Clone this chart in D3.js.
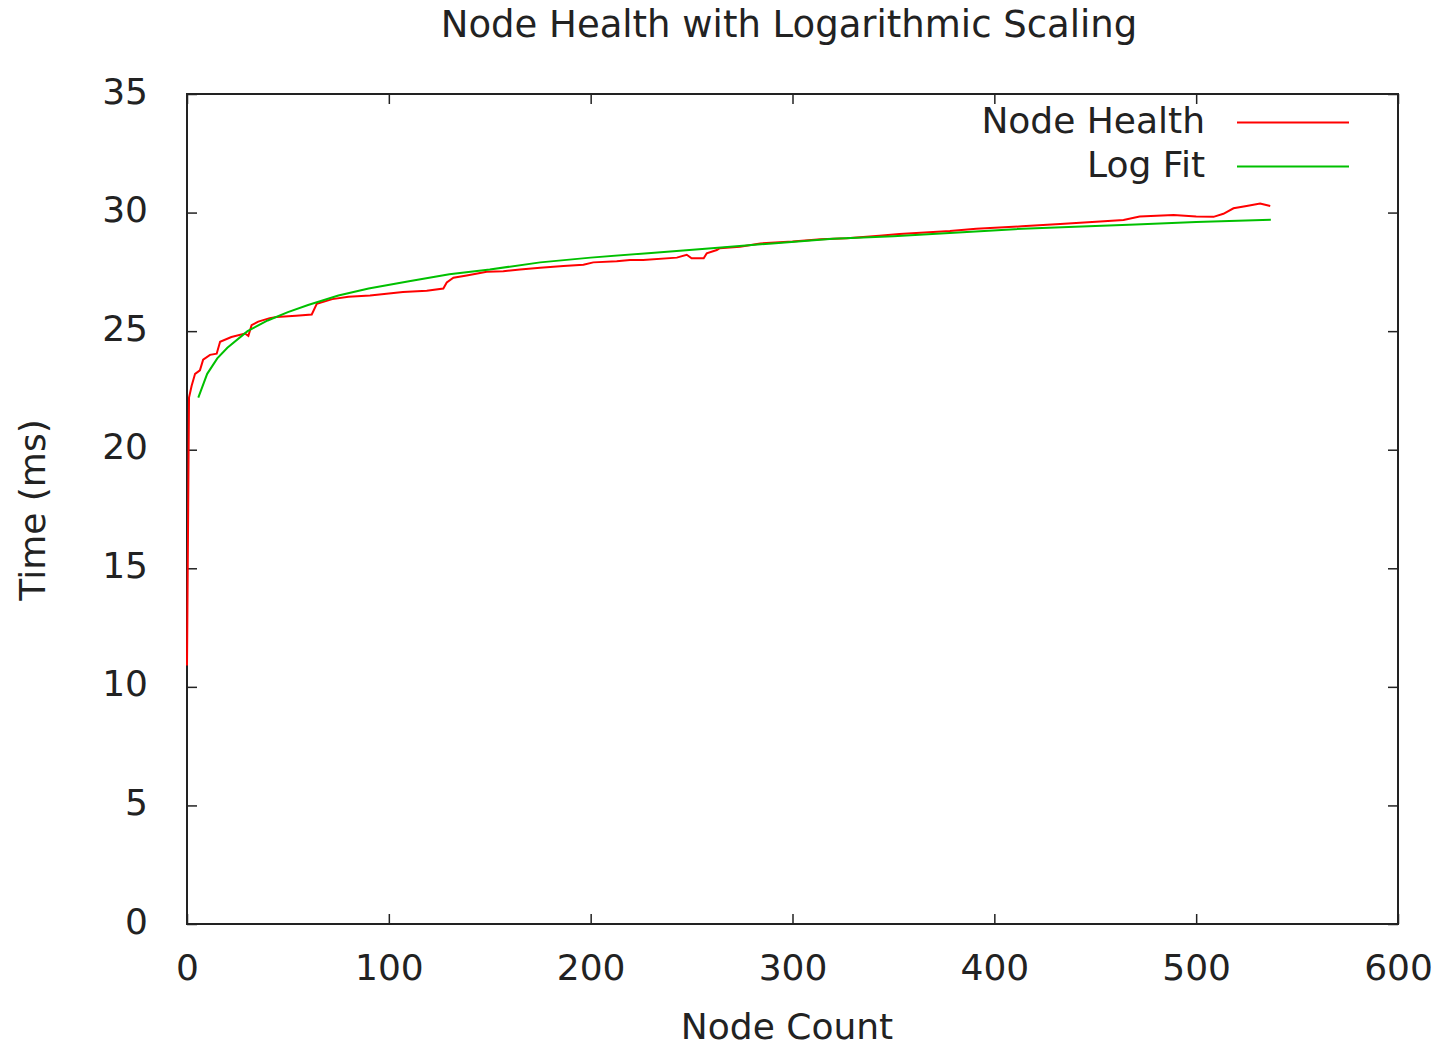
<!DOCTYPE html>
<html>
<head>
<meta charset="utf-8">
<script src="https://cdn.jsdelivr.net/npm/d3@7"></script>
<style>
  body { margin: 0; background: #fff; }
  text { font-family: "DejaVu Sans", sans-serif; fill: #222; }
</style>
</head>
<body>
<div id="chart"></div>
<script>
// node count vs time (ms)
var healthX = [0, 1, 2.3, 4, 6.4, 8, 11.4, 14.7, 16.4, 22, 28.7, 30.4, 32, 35.3, 41, 44.4, 54, 61.8, 64.3, 72, 80,
  90.7, 107, 118.8, 127, 128.7, 132, 138.6, 148.5, 156.7, 165, 175, 186.5, 196.4, 201.3, 212.9, 219.5, 226,
  242.7, 247.6, 250, 256, 257.5, 262.5, 264, 274, 284, 300, 314, 327, 343, 353, 378, 391, 413.6, 432.6,
  442.5, 452.4, 464, 472, 488.8, 500, 508.6, 513.5, 518.5, 525, 531.7, 536.7];
var healthY = [10.9, 22.2, 22.7, 23.2, 23.35, 23.8, 24.0, 24.05, 24.55, 24.75, 24.9, 24.8, 25.25, 25.4, 25.55, 25.6, 25.65, 25.7, 26.15, 26.35, 26.45,
  26.5, 26.65, 26.7, 26.8, 27.05, 27.25, 27.35, 27.5, 27.53, 27.6, 27.67, 27.75, 27.8, 27.9, 27.95, 28.0, 28.0,
  28.1, 28.22, 28.07, 28.07, 28.28, 28.42, 28.5, 28.56, 28.7, 28.78, 28.88, 28.92, 29.02, 29.1, 29.22, 29.32, 29.42, 29.52,
  29.57, 29.62, 29.69, 29.83, 29.9, 29.83, 29.82, 29.95, 30.18, 30.28, 30.38, 30.28];

var fitX = [5.6, 10, 15, 20, 30, 40, 50, 60, 75, 90, 110, 130, 150, 175, 200, 230, 260, 290, 320, 350, 380, 410, 440, 470, 500, 537];
var fitY = [22.2, 23.2, 23.85, 24.3, 25.0, 25.45, 25.8, 26.1, 26.5, 26.8, 27.1, 27.4, 27.6, 27.9, 28.1, 28.3, 28.5, 28.7, 28.9, 29.0, 29.15, 29.3, 29.4, 29.5, 29.6, 29.7];

var seriesNames = ["Node Health", "Log Fit"];
var colors = ["#ff0000", "#00c000"];
var xTicks = [0, 100, 200, 300, 400, 500, 600];
var yTicks = [0, 5, 10, 15, 20, 25, 30, 35];

var W = 1435, H = 1048;
var margin = {top: 94, right: 37, bottom: 124, left: 187},
    width = W - margin.left - margin.right,
    height = H - margin.top - margin.bottom;

var svg = d3.select("#chart").append("svg")
    .attr("width", W)
    .attr("height", H);

var g = svg.append("g")
    .attr("transform", "translate(" + margin.left + "," + margin.top + ")");

var x = d3.scaleLinear().domain([0, 600]).range([0, width]);
var y = d3.scaleLinear().domain([0, 35]).range([height, 0]);

// axes, ticks pointing inward like gnuplot
var xAxis = g.append("g")
    .attr("transform", "translate(0," + height + ")")
    .call(d3.axisBottom(x).tickValues(xTicks).tickSize(-10).tickPadding(30));
var yAxis = g.append("g")
    .call(d3.axisLeft(y).tickValues(yTicks).tickSize(-10).tickPadding(39));
var xTop = g.append("g")
    .call(d3.axisTop(x).tickValues(xTicks).tickSize(-10).tickFormat(""));
var yRight = g.append("g")
    .attr("transform", "translate(" + width + ",0)")
    .call(d3.axisRight(y).tickValues(yTicks).tickSize(-10).tickFormat(""));

[xAxis, yAxis, xTop, yRight].forEach(function(a) {
  a.select(".domain").remove();
  a.selectAll(".tick line").attr("stroke", "#222").attr("stroke-width", 1.5);
  a.selectAll(".tick text").style("font-size", "36px").attr("fill", "#222")
    .style("font-family", "'DejaVu Sans', sans-serif");
});
yAxis.selectAll(".tick text").attr("dy", "0.25em");

// frame
g.append("rect")
    .attr("x", 0).attr("y", 0)
    .attr("width", width).attr("height", height)
    .attr("fill", "none")
    .attr("stroke", "#222")
    .attr("stroke-width", 2);

var line = d3.line()
    .x(function(d) { return x(d[0]); })
    .y(function(d) { return y(d[1]); });

var fitData = fitX.map(function(v, i) { return [v, fitY[i]]; });
var healthData = healthX.map(function(v, i) { return [v, healthY[i]]; });

g.append("path")
    .datum(healthData)
    .attr("d", line)
    .attr("fill", "none")
    .attr("stroke", colors[0])
    .attr("stroke-width", 2);

g.append("path")
    .datum(fitData)
    .attr("d", line)
    .attr("fill", "none")
    .attr("stroke", colors[1])
    .attr("stroke-width", 2);

// legend
for (var i = 0; i < seriesNames.length; i++) {
  svg.append("text")
      .attr("x", 1205)
      .attr("y", 133 + i * 44)
      .attr("text-anchor", "end")
      .style("font-size", "36px")
      .text(seriesNames[i]);
  svg.append("line")
      .attr("x1", 1237).attr("x2", 1349)
      .attr("y1", 122.5 + i * 44).attr("y2", 122.5 + i * 44)
      .attr("stroke", colors[i])
      .attr("stroke-width", 2);
}

// titles
svg.append("text")
    .attr("x", 789).attr("y", 37)
    .attr("text-anchor", "middle")
    .style("font-size", "37px")
    .text("Node Health with Logarithmic Scaling");

svg.append("text")
    .attr("x", 787).attr("y", 1039)
    .attr("text-anchor", "middle")
    .style("font-size", "36px")
    .text("Node Count");

svg.append("text")
    .attr("transform", "translate(45,510) rotate(-90)")
    .attr("text-anchor", "middle")
    .style("font-size", "36px")
    .text("Time (ms)");
</script>
</body>
</html>
